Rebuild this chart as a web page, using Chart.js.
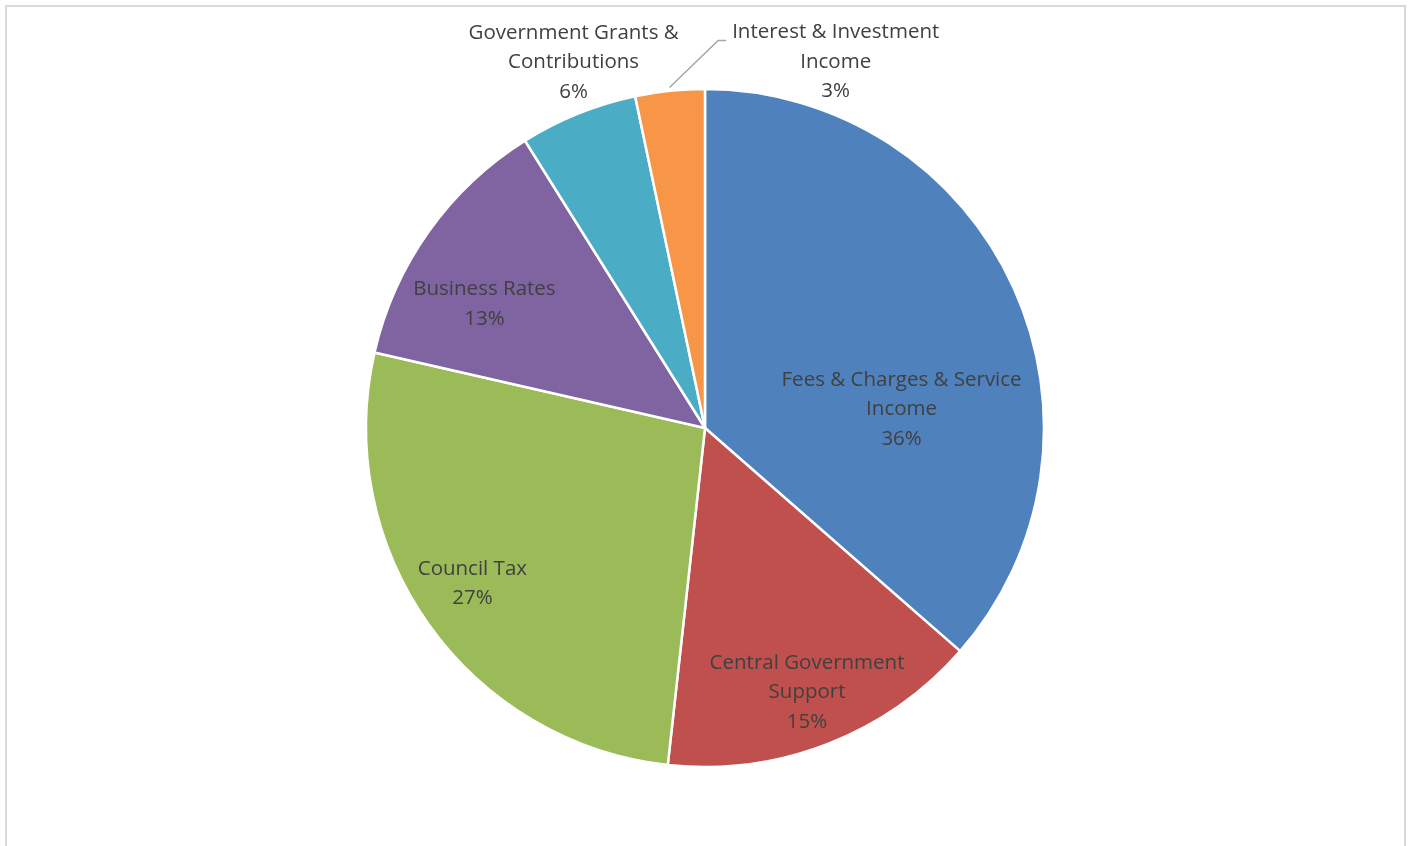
<!DOCTYPE html>
<html>
<head>
<meta charset="utf-8">
<script src="https://cdn.jsdelivr.net/npm/chart.js@4.4.0/dist/chart.umd.min.js"></script>
<style>
  html, body { margin: 0; padding: 0; background: #fff; overflow: hidden; }
  #wrap { position: relative; width: 1410px; height: 846px; overflow: hidden; }
  #frame { position: absolute; left: 5px; top: 5px; width: 1397px; height: 900px; border: 2px solid #d9d9d9; }
  #chart { position: absolute; left: 0; top: 0; }
</style>
</head>
<body>
<div id="wrap">
  <div id="frame"></div>
  <canvas id="chart" width="1410" height="846"></canvas>
</div>
<script>
const categories = [
  'Fees & Charges & Service Income',
  'Central Government Support',
  'Council Tax',
  'Business Rates',
  'Government Grants & Contributions',
  'Interest & Investment Income'
];
const labelLines = [
  ['Fees & Charges & Service', 'Income'],
  ['Central Government', 'Support'],
  ['Council Tax'],
  ['Business Rates'],
  ['Government Grants &', 'Contributions'],
  ['Interest & Investment', 'Income']
];
const shares = [36.4, 15.3, 26.8, 12.5, 5.6, 3.3];
const colors = ['#4f81bd', '#c0504d', '#9bbb59', '#8064a2', '#4bacc6', '#f79646'];

// label placement: angle shift from slice middle (deg), distance in radii
const labelPlace = [
  { shift: 18.5, dist: 0.583 },
  { shift: 0, dist: 0.83 },
  { shift: 2, dist: 0.822 },
  { shift: -5.7, dist: 0.749 },
  { shift: 2.3, dist: 1.151 },
  { shift: 25.5, dist: 1.152, leader: true }
];

const FONT = '20.5px "Open Sans", sans-serif';
const LINE_H = 29.5;

const pieLabels = {
  id: 'pieLabels',
  afterDatasetsDraw(chart) {
    const ctx = chart.ctx;
    const meta = chart.getDatasetMeta(0);
    const total = shares.reduce((a, b) => a + b, 0);
    ctx.save();
    ctx.font = FONT;
    ctx.fillStyle = '#404040';
    ctx.textAlign = 'center';
    ctx.textBaseline = 'middle';
    meta.data.forEach((arc, i) => {
      const p = arc.getProps(['x', 'y', 'startAngle', 'endAngle', 'outerRadius'], true);
      const place = labelPlace[i];
      const mid = (p.startAngle + p.endAngle) / 2;
      const a = mid + place.shift * Math.PI / 180;
      const cx = p.x + Math.cos(a) * place.dist * p.outerRadius;
      const cy = p.y + Math.sin(a) * place.dist * p.outerRadius + 2;
      const lines = labelLines[i].concat([Math.round(shares[i] / total * 100) + '%']);
      const y0 = cy - (lines.length - 1) * LINE_H / 2;
      lines.forEach((t, k) => ctx.fillText(t, cx, y0 + k * LINE_H));
      if (place.leader) {
        const w = Math.max(...lines.map(t => ctx.measureText(t).width));
        const left = cx - w / 2;
        const sx = p.x + Math.cos(mid) * p.outerRadius * 1.01;
        const sy = p.y + Math.sin(mid) * p.outerRadius * 1.01;
        ctx.strokeStyle = '#a6a6a6';
        ctx.lineWidth = 1.5;
        ctx.beginPath();
        ctx.moveTo(sx, sy);
        ctx.lineTo(left - 14, y0 + 8);
        ctx.lineTo(left - 6, y0 + 8);
        ctx.stroke();
      }
    });
    ctx.restore();
  }
};

new Chart(document.getElementById('chart'), {
  type: 'pie',
  data: {
    labels: categories,
    datasets: [{
      data: shares,
      backgroundColor: colors,
      borderColor: '#ffffff',
      borderWidth: 2.5
    }]
  },
  options: {
    responsive: false,
    animation: false,
    radius: 339,
    layout: { padding: { top: 10, bottom: 0 } },
    plugins: {
      legend: { display: false },
      tooltip: { enabled: false }
    },
    events: []
  },
  plugins: [pieLabels]
});
</script>
</body>
</html>
